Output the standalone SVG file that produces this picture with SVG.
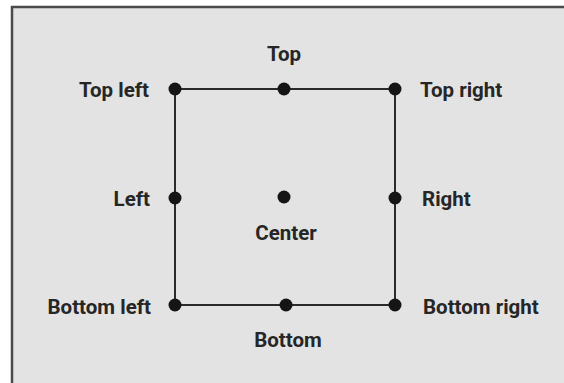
<svg xmlns="http://www.w3.org/2000/svg" width="564" height="383" viewBox="0 0 564 383">
<style>
.lbl{font-family:Roboto,"Liberation Sans",sans-serif;font-weight:bold;font-size:20.5px;fill:#262626}
.dot{fill:#151515}
.edge{stroke:#2a2a2a;stroke-width:2;fill:none}
</style>
<rect x="0" y="0" width="564" height="383" fill="#ffffff"/>
<rect x="11" y="6" width="553" height="377" fill="#e3e3e3"/>
<path d="M12 383 V7 H564" stroke="#4a4a4a" stroke-width="2.5" fill="none"/>
<g id="connectors">
<path class="edge" d="M175 89 H395 V305 H175 Z"/>
</g>
<g id="top-left"><circle class="dot" cx="175" cy="89" r="6.5"/><text class="lbl" x="149" y="97" text-anchor="end">Top left</text></g>
<g id="top"><circle class="dot" cx="284" cy="89" r="6.5"/><text class="lbl" x="284" y="61" text-anchor="middle">Top</text></g>
<g id="top-right"><circle class="dot" cx="395" cy="89" r="6.5"/><text class="lbl" x="420" y="97">Top right</text></g>
<g id="left"><circle class="dot" cx="175" cy="198" r="6.5"/><text class="lbl" x="150" y="206" text-anchor="end">Left</text></g>
<g id="center"><circle class="dot" cx="284" cy="197" r="6.5"/><text class="lbl" x="286" y="240" text-anchor="middle">Center</text></g>
<g id="right"><circle class="dot" cx="395" cy="198" r="6.5"/><text class="lbl" x="422" y="206">Right</text></g>
<g id="bottom-left"><circle class="dot" cx="175" cy="305" r="6.5"/><text class="lbl" x="151" y="314" text-anchor="end">Bottom left</text></g>
<g id="bottom"><circle class="dot" cx="286" cy="305" r="6.5"/><text class="lbl" x="288" y="347" text-anchor="middle">Bottom</text></g>
<g id="bottom-right"><circle class="dot" cx="395" cy="305" r="6.5"/><text class="lbl" x="423" y="314">Bottom right</text></g>
</svg>
